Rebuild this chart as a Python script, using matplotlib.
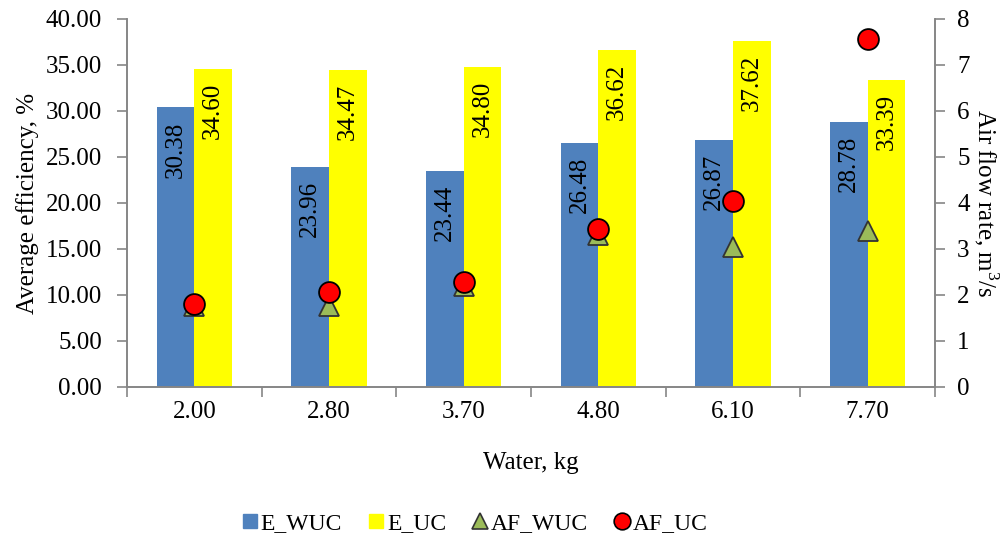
import matplotlib
matplotlib.use("Agg")
import matplotlib.pyplot as plt
import numpy as np
from matplotlib.lines import Line2D
from matplotlib.ticker import FixedLocator

plt.rcParams["font.family"] = ["Liberation Serif", "DejaVu Serif"]
plt.rcParams["mathtext.fontset"] = "custom"
plt.rcParams["mathtext.rm"] = "Liberation Serif"

# data
water = ["2.00", "2.80", "3.70", "4.80", "6.10", "7.70"]
e_wuc = [30.38, 23.96, 23.44, 26.48, 26.87, 28.78]
e_uc = [34.60, 34.47, 34.80, 36.62, 37.62, 33.39]
af_wuc = [1.75, 1.75, 2.20, 3.30, 3.05, 3.40]
af_uc = [1.80, 2.07, 2.28, 3.43, 4.05, 7.56]

BLUE = "#4F81BD"
YELLOW = "#FFFF00"
GREEN = "#9BBB59"
RED = "#FF0000"
AXIS_GREY = "#868686"
FS = 18

fig = plt.figure(figsize=(10.08, 5.42), dpi=100)
ax = fig.add_axes([0.126, 0.286, 0.8016, 0.679])
ax2 = ax.twinx()

x = np.arange(len(water))
w = 0.28
ax.bar(x - w / 2, e_wuc, width=w, color=BLUE, zorder=2)
ax.bar(x + w / 2, e_uc, width=w, color=YELLOW, zorder=2)

for xi, v in zip(x - w / 2, e_wuc):
    ax.annotate(f"{v:.2f}", (xi, v), xytext=(0, -10), textcoords="offset points",
                rotation=90, ha="center", va="top", fontsize=FS, zorder=3)
for xi, v in zip(x + w / 2, e_uc):
    ax.annotate(f"{v:.2f}", (xi, v), xytext=(0, -10), textcoords="offset points",
                rotation=90, ha="center", va="top", fontsize=FS, zorder=3)

ax2.plot(x, af_wuc, linestyle="none", marker="^", markersize=14,
         markerfacecolor=GREEN, markeredgecolor="#333333", markeredgewidth=1.3)
ax2.plot(x, af_uc, linestyle="none", marker="o", markersize=15,
         markerfacecolor=RED, markeredgecolor="black", markeredgewidth=1.3)

ax.set_xlim(-0.5, len(water) - 0.5)
ax.set_ylim(0, 40)
ax2.set_ylim(0, 8)
ax.set_yticks(np.arange(0, 41, 5))
ax.set_yticklabels([f"{t:.2f}" for t in np.arange(0, 41, 5)])
ax2.set_yticks(range(0, 9))

ax.set_xticks(x)
ax.set_xticklabels(water)
ax.xaxis.set_minor_locator(FixedLocator(np.arange(-0.5, len(water), 1.0)))
ax.tick_params(axis="x", which="major", length=0, pad=10, labelsize=FS)
ax.tick_params(axis="x", which="minor", length=7, color=AXIS_GREY, width=1.2)
ax.tick_params(axis="y", length=7, color=AXIS_GREY, width=1.2, labelsize=FS, pad=11)
ax2.tick_params(axis="y", length=7, color=AXIS_GREY, width=1.2, labelsize=FS, pad=9)

for a in (ax, ax2):
    a.spines["top"].set_visible(False)
    for s in ("left", "right", "bottom"):
        a.spines[s].set_color(AXIS_GREY)
        a.spines[s].set_linewidth(1.2)

ax.set_xlabel("Water, kg", fontsize=FS, labelpad=21)
ax.set_ylabel("Average efficiency, %", fontsize=FS, labelpad=5)
ax2.set_ylabel("Air flow rate, m$^3$/s", fontsize=FS, rotation=270, labelpad=22)

handles = [
    Line2D([], [], linestyle="none", marker="s", markersize=10, markerfacecolor=BLUE,
           markeredgecolor=BLUE),
    Line2D([], [], linestyle="none", marker="s", markersize=10, markerfacecolor=YELLOW,
           markeredgecolor=YELLOW),
    Line2D([], [], linestyle="none", marker="^", markersize=12, markerfacecolor=GREEN,
           markeredgecolor="#333333", markeredgewidth=1.2),
    Line2D([], [], linestyle="none", marker="o", markersize=12, markerfacecolor=RED,
           markeredgecolor="black", markeredgewidth=1.2),
]
fig.legend(handles, ["E_WUC", "E_UC", "AF_WUC", "AF_UC"], loc="center",
           bbox_to_anchor=(0.47, 0.035), ncol=4, frameon=False, fontsize=17,
           handletextpad=0.0, columnspacing=1.0, handlelength=0.9)

fig.savefig("out.png", dpi=100)
